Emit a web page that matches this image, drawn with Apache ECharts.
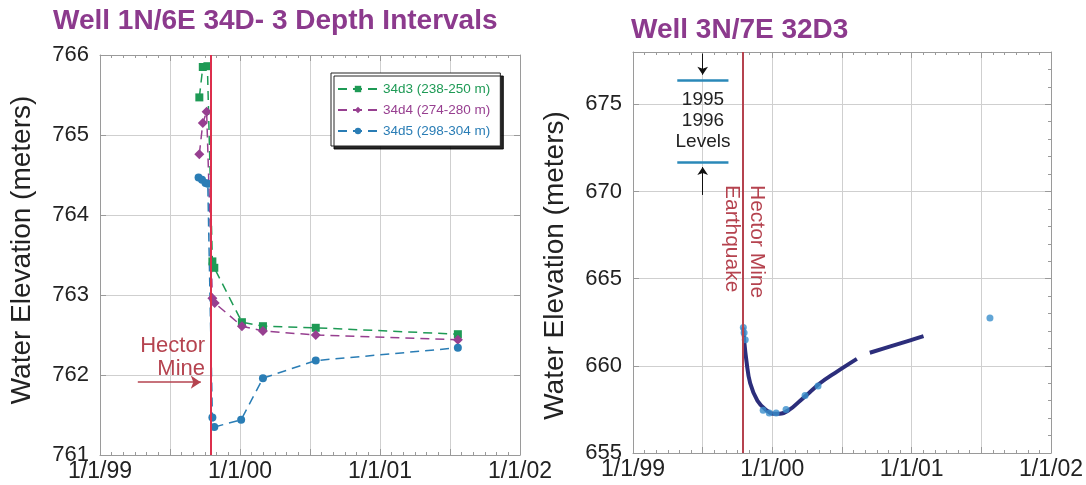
<!DOCTYPE html>
<html>
<head>
<meta charset="utf-8">
<script src="https://cdn.jsdelivr.net/npm/echarts@6/dist/echarts.min.js"></script>
<style>
  html, body { margin: 0; padding: 0; background: #fff; }
  #chart { width: 1086px; height: 485px; }
</style>
</head>
<body>
<div id="chart"></div>
<script>
// Well 1N/6E 34D - three depth intervals
const d3Dates = ['1999-09-17', '1999-09-26', '1999-10-08', '1999-10-21', '1999-10-26', '2000-01-06', '2000-03-01', '2000-07-17', '2001-07-23'];
const d3Levels = [765.47, 765.85, 765.86, 763.42, 763.34, 762.66, 762.61, 762.59, 762.51];

const d4Dates = ['1999-09-17', '1999-09-26', '1999-10-06', '1999-10-21', '1999-10-27', '2000-01-06', '2000-03-01', '2000-07-17', '2001-07-23'];
const d4Levels = [764.76, 765.15, 765.29, 762.96, 762.9, 762.61, 762.55, 762.5, 762.44];

const d5Dates = ['1999-09-15', '1999-09-24', '1999-10-03', '1999-10-09', '1999-10-21', '1999-10-26', '2000-01-04', '2000-03-01', '2000-07-17', '2001-07-23'];
const d5Levels = [764.47, 764.44, 764.4, 764.39, 761.47, 761.35, 761.44, 761.96, 762.18, 762.34];

// Well 3N/7E 32D3 - continuous record (null = gap)
const curveDates = ['1999-10-17', '1999-10-19', '1999-10-25', '1999-11-04', '1999-11-23', '1999-12-14', '2000-01-03', '2000-01-21', '2000-02-16', '2000-03-14', '2000-04-09', '2000-05-05', '2000-06-14', '2000-08-10', '2000-08-25', '2000-09-13', '2000-11-04', '2000-12-26', '2001-02-01'];
const curveLevels = [662.2, 661.5, 660.3, 659.0, 658.0, 657.5, 657.25, 657.25, 657.5, 658.0, 658.5, 659.0, 659.6, 660.4, null, 660.75, 661.1, 661.45, 661.7];

// periodic measurements on the same well
const manualDates = ['1999-10-17', '1999-10-19', '1999-10-22', '1999-12-08', '1999-12-24', '2000-01-11', '2000-02-06', '2000-03-27', '2000-04-30', '2001-07-25'];
const manualLevels = [662.2, 661.9, 661.5, 657.45, 657.3, 657.3, 657.5, 658.3, 658.85, 662.75];

// 1995 / 1996 levels
const oldLevels = [676.4, 671.7];
const oldSpan = ['1999-04-27', '1999-09-08'];

const quakeDate = '1999-10-16';
const yearTicks = ['1/1/99', '1/1/00', '1/1/01', '1/1/02'];

const legendNames = ['34d3 (238-250 m)', '34d4 (274-280 m)', '34d5 (298-304 m)'];
const colors = ['#1e9a55', '#973f90', '#2a7db5'];

// 日期转成小数年
function toYear(s) {
    const d = Date.parse(s + 'T00:00:00Z');
    const y = new Date(d).getUTCFullYear();
    const a = Date.UTC(y, 0, 1), b = Date.UTC(y + 1, 0, 1);
    return y + (d - a) / (b - a);
}
function pairs(dates, vals) {
    return dates.map((d, i) => [toYear(d), vals[i]]);
}

const FONT = 'Liberation Sans, Arial, sans-serif';
const gridColor = '#cfcfcf';
const axisColor = '#9a9a9a';

function xAxisFor(gi, top) {
    return {
        type: 'value', gridIndex: gi, min: 1999, max: 2002, interval: 0.5,
        position: top ? 'top' : 'bottom',
        axisLine: { show: true, lineStyle: { color: axisColor, width: 1 } },
        axisTick: { show: true, inside: true, length: 6, lineStyle: { color: axisColor } },
        minorTick: { show: true, splitNumber: 6, length: 3, lineStyle: { color: axisColor } },
        splitLine: { show: !top, lineStyle: { color: gridColor, width: 1 } },
        axisLabel: {
            show: !top, fontSize: 23, color: '#222', fontFamily: FONT, margin: 5,
            formatter: v => {
                const k = Math.round(v - 1999);
                return Math.abs(v - 1999 - k) < 1e-6 ? yearTicks[k] : '';
            }
        }
    };
}

// padding 用来微调轴名的位置
function yAxisFor(gi, min, max, interval, right, minor, namePad) {
    return {
        type: 'value', gridIndex: gi, min: min, max: max, interval: interval,
        position: right ? 'right' : 'left',
        name: right ? '' : 'Water Elevation (meters)',
        nameLocation: 'middle', nameGap: 64,
        nameTextStyle: { fontSize: 28, color: '#222', fontFamily: FONT, padding: namePad || 0 },
        axisLine: { show: true, lineStyle: { color: axisColor, width: 1 } },
        axisTick: { show: true, inside: true, length: 6, lineStyle: { color: axisColor } },
        minorTick: { show: !!minor, splitNumber: minor || 5, length: 3, lineStyle: { color: axisColor } },
        splitLine: { show: !right, lineStyle: { color: gridColor, width: 1 } },
        axisLabel: {
            show: !right, fontSize: 22, color: '#222', fontFamily: FONT, margin: 11,
            padding: [0, 0, 6, 0],
            formatter: v => ((v - min) % interval === 0 ? String(v) : '')
        }
    };
}

function depthSeries(i, dates, vals, symbol, size) {
    return {
        name: legendNames[i], type: 'line', xAxisIndex: 0, yAxisIndex: 0,
        data: pairs(dates, vals),
        symbol: symbol, symbolSize: size,
        lineStyle: { color: colors[i], width: 1.5, type: [9, 6] },
        itemStyle: { color: colors[i] },
        z: 3
    };
}

const chart = echarts.init(document.getElementById('chart'));

const s3 = depthSeries(0, d3Dates, d3Levels, 'rect', 8);
const s4 = depthSeries(1, d4Dates, d4Levels, 'diamond', 10);
const s5 = depthSeries(2, d5Dates, d5Levels, 'circle', 8);

s3.markLine = {
    silent: true, symbol: 'none', label: { show: false }, animation: false,
    lineStyle: { color: '#dc2f4c', width: 2, type: 'solid' },
    data: [{ xAxis: toYear(quakeDate) }]
};
s4.markLine = {
    silent: true, symbol: ['none', 'arrow'], symbolSize: 10, label: { show: false },
    lineStyle: { color: '#b5434f', width: 1.5, type: 'solid' },
    data: [[{ coord: [1999.27, 761.91] }, { coord: [1999.72, 761.91] }]]
};

const option = {
    animation: false,
    textStyle: { fontFamily: FONT },
    title: [
        { text: 'Well 1N/6E 34D- 3 Depth Intervals', left: 53, top: 7, padding: 0,
          textStyle: { fontSize: 28, fontWeight: 'bold', color: '#8c3a8d', fontFamily: FONT } },
        { text: 'Well 3N/7E 32D3', left: 631, top: 16, padding: 0,
          textStyle: { fontSize: 28, fontWeight: 'bold', color: '#8c3a8d', fontFamily: FONT } }
    ],
    legend: {
        orient: 'vertical', left: 331, top: 73,
        padding: [9, 10, 8, 6], itemGap: 7, itemWidth: 40, itemHeight: 8,
        backgroundColor: '#fff', borderColor: '#222', borderWidth: 1,
        shadowColor: 'rgba(0,0,0,0.85)', shadowOffsetX: 3, shadowOffsetY: 3, shadowBlur: 0,
        textStyle: { fontSize: 13.5, fontFamily: FONT },
        data: legendNames.map((n, i) => ({ name: n, textStyle: { color: colors[i] } }))
    },
    grid: [
        { left: 100, top: 55, width: 420, height: 400 },
        { left: 633, top: 52, width: 421, height: 401 }
    ],
    xAxis: [xAxisFor(0, false), xAxisFor(0, true), xAxisFor(1, false), xAxisFor(1, true)],
    yAxis: [
        yAxisFor(0, 761, 766, 1, false, 0, [0, 0, 0, 10]),
        yAxisFor(0, 761, 766, 1, true, 0),
        yAxisFor(1, 655, 678, 5, false, 0, [0, 26, 0, 0]),
        yAxisFor(1, 655, 678, 5, true, 5)
    ],
    series: [
        s3, s4, s5,
        {
            name: 'record', type: 'line', xAxisIndex: 2, yAxisIndex: 2,
            data: pairs(curveDates, curveLevels), smooth: 0.4, showSymbol: false,
            connectNulls: false,
            lineStyle: { color: '#2c2e7b', width: 4 }, itemStyle: { color: '#2c2e7b' },
            markLine: {
                silent: true, symbol: 'none', label: { show: false },
                lineStyle: { color: '#b5434f', width: 2, type: 'solid' },
                data: [{ xAxis: toYear(quakeDate) }]
            },
            z: 3
        },
        {
            name: 'measured', type: 'scatter', xAxisIndex: 2, yAxisIndex: 2,
            data: pairs(manualDates, manualLevels), symbolSize: 7,
            itemStyle: { color: '#3a8fcc' },
            markLine: {
                silent: true, symbol: 'none', label: { show: false },
                lineStyle: { color: '#2a88b8', width: 2.5, type: 'solid' },
                data: oldLevels.map(v => [
                    { coord: [toYear(oldSpan[0]), v] },
                    { coord: [toYear(oldSpan[1]), v] }
                ])
            },
            z: 4
        },
        {
            name: 'arrows', type: 'line', xAxisIndex: 2, yAxisIndex: 2, data: [],
            markLine: {
                silent: true, symbol: ['none', 'arrow'], symbolSize: 8, label: { show: false },
                lineStyle: { color: '#111', width: 1, type: 'solid' },
                data: [
                    [{ coord: [1999.5, 677.9] }, { coord: [1999.5, 676.7] }],
                    [{ coord: [1999.5, 669.8] }, { coord: [1999.5, 671.4] }]
                ]
            }
        }
    ],
    graphic: [
        {
            type: 'text', z: 10,
            style: { text: 'Hector\nMine', x: 205, y: 357, textAlign: 'right', textVerticalAlign: 'middle',
                     fontSize: 22, lineHeight: 23, fontFamily: FONT, fill: '#b5434f' }
        },
        {
            type: 'text', z: 10, x: 744, y: 185, rotation: -Math.PI / 2,
            style: { text: 'Hector Mine\nEarthquake', x: 0, y: 0, textAlign: 'left', textVerticalAlign: 'middle',
                     fontSize: 21, lineHeight: 25, fontFamily: FONT, fill: '#b5434f' }
        },
        {
            type: 'text', z: 10,
            style: { text: '1995\n1996\nLevels', x: 703, y: 121, textAlign: 'center', textVerticalAlign: 'middle',
                     fontSize: 19, lineHeight: 21, fontFamily: FONT, fill: '#222' }
        }
    ]
};

chart.setOption(option);
</script>
</body>
</html>
